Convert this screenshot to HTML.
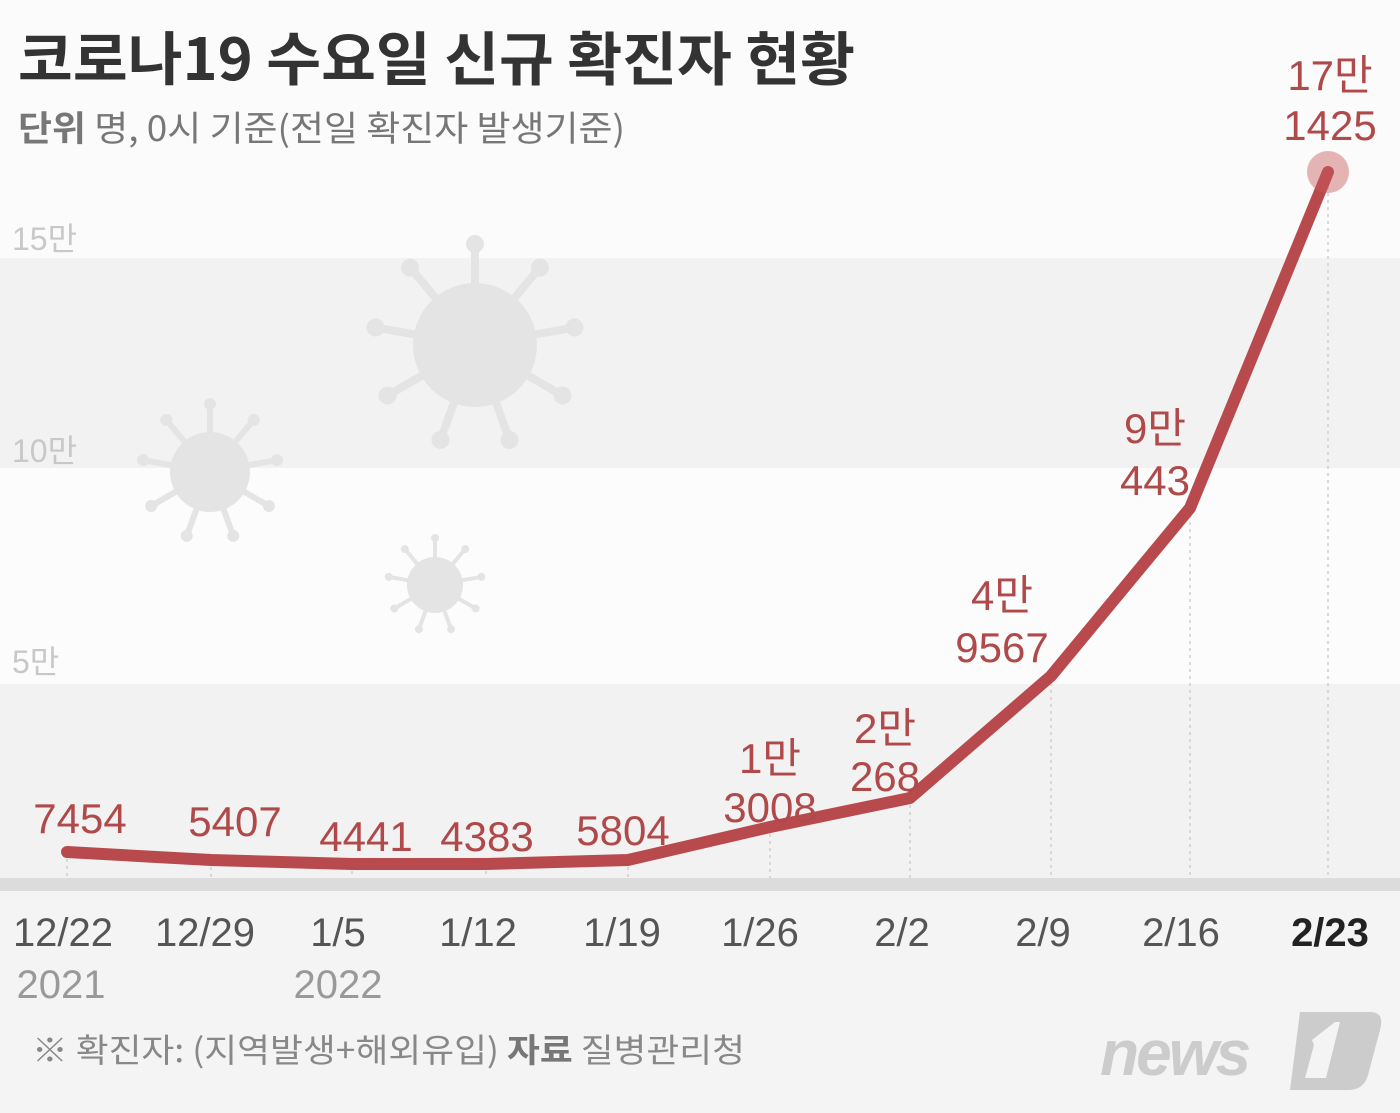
<!DOCTYPE html>
<html><head><meta charset="utf-8"><style>
body{margin:0;width:1400px;height:1108px;overflow:hidden;background:#f4f4f4;font-family:"Liberation Sans Narrow","Liberation Sans","Noto Sans CJK KR",sans-serif}
</style></head><body>
<svg width="1400" height="1108" xmlns="http://www.w3.org/2000/svg" font-family="'Liberation Sans Narrow','Liberation Sans','Noto Sans CJK KR',sans-serif">
<rect x="0" y="0" width="1400" height="258" fill="#fbfbfb"/>
<rect x="0" y="258" width="1400" height="210" fill="#f2f2f2"/>
<rect x="0" y="468" width="1400" height="216" fill="#fcfcfc"/>
<rect x="0" y="684" width="1400" height="194" fill="#f2f2f2"/>
<rect x="0" y="878" width="1400" height="13" fill="#dcdcdc"/>
<g fill="#e4e4e4" stroke="#e4e4e4" stroke-width="8" stroke-linecap="round">
<circle cx="475" cy="345" r="62" stroke="none"/>
<g id="sp1">
<line x1="475" y1="345" x2="475" y2="250"/><circle cx="475" cy="244" r="9" stroke="none"/>
</g>
<use href="#sp1" transform="rotate(40 475 345)"/><use href="#sp1" transform="rotate(80 475 345)"/><use href="#sp1" transform="rotate(120 475 345)"/><use href="#sp1" transform="rotate(160 475 345)"/><use href="#sp1" transform="rotate(200 475 345)"/><use href="#sp1" transform="rotate(240 475 345)"/><use href="#sp1" transform="rotate(280 475 345)"/><use href="#sp1" transform="rotate(320 475 345)"/>
<circle cx="210" cy="472" r="40" stroke="none"/>
<g id="sp2" stroke-width="6"><line x1="210" y1="472" x2="210" y2="408"/><circle cx="210" cy="404" r="6" stroke="none"/></g>
<use href="#sp2" transform="rotate(40 210 472)"/><use href="#sp2" transform="rotate(80 210 472)"/><use href="#sp2" transform="rotate(120 210 472)"/><use href="#sp2" transform="rotate(160 210 472)"/><use href="#sp2" transform="rotate(200 210 472)"/><use href="#sp2" transform="rotate(240 210 472)"/><use href="#sp2" transform="rotate(280 210 472)"/><use href="#sp2" transform="rotate(320 210 472)"/>
<circle cx="435" cy="585" r="28" stroke="none"/>
<g id="sp3" stroke-width="4"><line x1="435" y1="585" x2="435" y2="540"/><circle cx="435" cy="538" r="4" stroke="none"/></g>
<use href="#sp3" transform="rotate(40 435 585)"/><use href="#sp3" transform="rotate(80 435 585)"/><use href="#sp3" transform="rotate(120 435 585)"/><use href="#sp3" transform="rotate(160 435 585)"/><use href="#sp3" transform="rotate(200 435 585)"/><use href="#sp3" transform="rotate(240 435 585)"/><use href="#sp3" transform="rotate(280 435 585)"/><use href="#sp3" transform="rotate(320 435 585)"/>
</g>
<g fill="#c8c8c8" font-size="32"><text x="12" y="250">15만</text><text x="12" y="462">10만</text><text x="12" y="673">5만</text></g>
<g stroke="#cfcfcf" stroke-width="1.5" stroke-dasharray="3,4">
<line x1="67" y1="852" x2="67" y2="878"/><line x1="211" y1="860" x2="211" y2="878"/><line x1="352" y1="864" x2="352" y2="878"/><line x1="486" y1="864" x2="486" y2="878"/><line x1="628" y1="860" x2="628" y2="878"/><line x1="770" y1="827" x2="770" y2="878"/><line x1="910" y1="798" x2="910" y2="878"/><line x1="1051" y1="676" x2="1051" y2="878"/><line x1="1190" y1="508" x2="1190" y2="878"/><line x1="1328" y1="172" x2="1328" y2="878"/>
</g>
<polyline points="67,852 211,860 352,864 486,864 628,860 770,827 910,798 1051,676 1190,508 1328,172" fill="none" stroke="#b84a4e" stroke-width="12" stroke-linejoin="round" stroke-linecap="round"/>
<circle cx="1328" cy="172" r="21" fill="#c85a5e" opacity="0.45"/>
<g fill="#b0494a" font-size="42" text-anchor="middle">
<text x="80" y="833">7454</text><text x="235" y="836">5407</text><text x="366" y="851">4441</text><text x="487" y="851">4383</text><text x="623" y="845">5804</text>
<text x="770" y="773">1만</text><text x="770" y="822">3008</text>
<text x="885" y="743">2만</text><text x="885" y="791">268</text>
<text x="1002" y="610">4만</text><text x="1002" y="662">9567</text>
<text x="1155" y="443">9만</text><text x="1155" y="495">443</text>
<text x="1330" y="90">17만</text><text x="1330" y="140">1425</text>
</g>
<g fill="#555" font-size="40" text-anchor="middle">
<text x="63" y="946">12/22</text><text x="205" y="946">12/29</text><text x="338" y="946">1/5</text><text x="478" y="946">1/12</text><text x="622" y="946">1/19</text><text x="760" y="946">1/26</text><text x="902" y="946">2/2</text><text x="1043" y="946">2/9</text><text x="1181" y="946">2/16</text>
<text x="1330" y="946" fill="#222" font-weight="bold">2/23</text>
</g>
<g fill="#999" font-size="40" text-anchor="middle"><text x="61" y="998">2021</text><text x="338" y="998">2022</text></g>
<text x="18" y="80" font-size="58" font-weight="bold" fill="#333" font-family="'Noto Sans CJK KR',sans-serif" textLength="837" lengthAdjust="spacingAndGlyphs">코로나19 수요일 신규 확진자 현황</text>
<text x="18" y="141" font-size="35" fill="#777" font-family="'Noto Sans CJK KR',sans-serif" textLength="607" lengthAdjust="spacingAndGlyphs"><tspan font-weight="bold">단위</tspan>  명, 0시 기준(전일 확진자 발생기준)</text>
<text x="32" y="1062" font-size="33" fill="#888" font-family="'Noto Sans CJK KR',sans-serif" textLength="713" lengthAdjust="spacingAndGlyphs">※ 확진자: (지역발생+해외유입)  <tspan font-weight="bold" fill="#777">자료</tspan>  질병관리청</text>
<text x="1100" y="1075" font-size="64" font-weight="bold" font-style="italic" fill="#cccccc" font-family="'Liberation Sans',sans-serif" letter-spacing="-3">news</text>
<path d="M1300 1012 L1370 1012 Q1385 1012 1380 1030 L1368 1075 Q1364 1090 1348 1090 L1290 1090 Z" fill="#cccccc"/>
<path d="M1312 1040 L1335 1022 L1340 1022 L1326 1078 L1305 1078 L1314 1045 Z" fill="#f4f4f4"/>
</svg>
</body></html>
